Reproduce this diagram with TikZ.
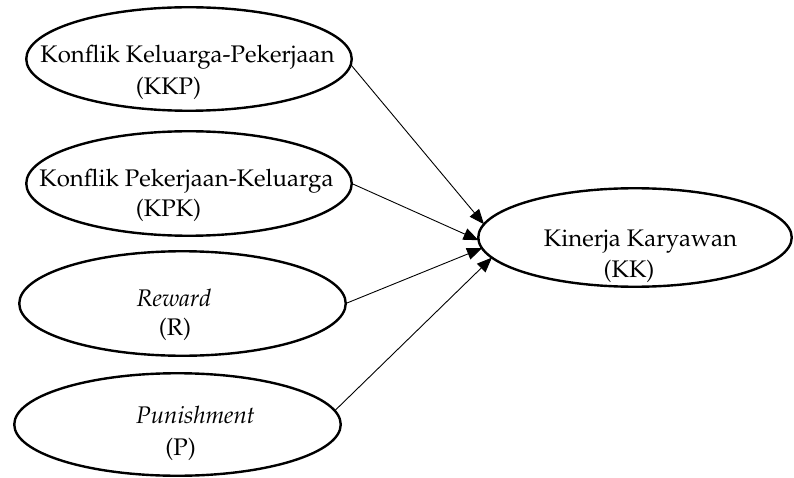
\documentclass[tikz,border=0pt]{standalone}
\usepackage[T1]{fontenc}
\usepackage{mathpazo}
\usetikzlibrary{shapes.geometric,arrows.meta}
\tikzset{
  ellbox/.style={draw, ellipse, line width=2.4pt, inner sep=0pt, outer sep=0pt},
  lbl/.style={anchor=base, inner sep=0pt, font=\fontsize{24}{28}\selectfont},
  conn/.style={line width=0.9pt, -{Triangle[length=15pt,width=12pt]}}
}
\begin{document}
\begin{tikzpicture}[x=1pt,y=-1pt]
\useasboundingbox (0,0) rectangle (794,478);
% ellipses
\node[ellbox, minimum width=325.5pt, minimum height=103.5pt] (kkp) at (189,59) {};
\node[ellbox, minimum width=325.5pt, minimum height=104.5pt] (kpk) at (189,183.5) {};
\node[ellbox, minimum width=326.5pt, minimum height=104.5pt] (rw) at (182.5,303.5) {};
\node[ellbox, minimum width=326.5pt, minimum height=102.5pt] (pn) at (177.5,424.5) {};
\node[ellbox, minimum width=313.5pt, minimum height=98.5pt] (kk) at (635,237.5) {};
% labels
\node[lbl] (kkpa) at (187.5,63) {Konflik Keluarga-Pekerjaan};
\node[lbl] (kkpb) at (168.5,95) {(KKP)};
\node[lbl] (kpka) at (186.5,187) {Konflik Pekerjaan-Keluarga};
\node[lbl] (kpkb) at (168.5,217) {(KPK)};
\node[lbl] (rwa) at (174,306) {\itshape Reward};
\node[lbl] (rwb) at (175,335) {(R)};
\node[lbl] (pna) at (195.5,423) {\itshape Punishment};
\node[lbl] (pnb) at (180.5,455) {(P)};
\node[lbl] (kka) at (640.5,247) {Kinerja Karyawan};
\node[lbl] (kkb) at (629,277) {(KK)};
% connectors
\draw[conn] (kkp.-2) -- (kk.175.3);
\draw[conn] (kpk.east) -- (kk.181.6);
\draw[conn] (rw.east) -- (kk.184.5);
\draw[conn] (pn.5) -- (kk.188.6);
\end{tikzpicture}
\end{document}
